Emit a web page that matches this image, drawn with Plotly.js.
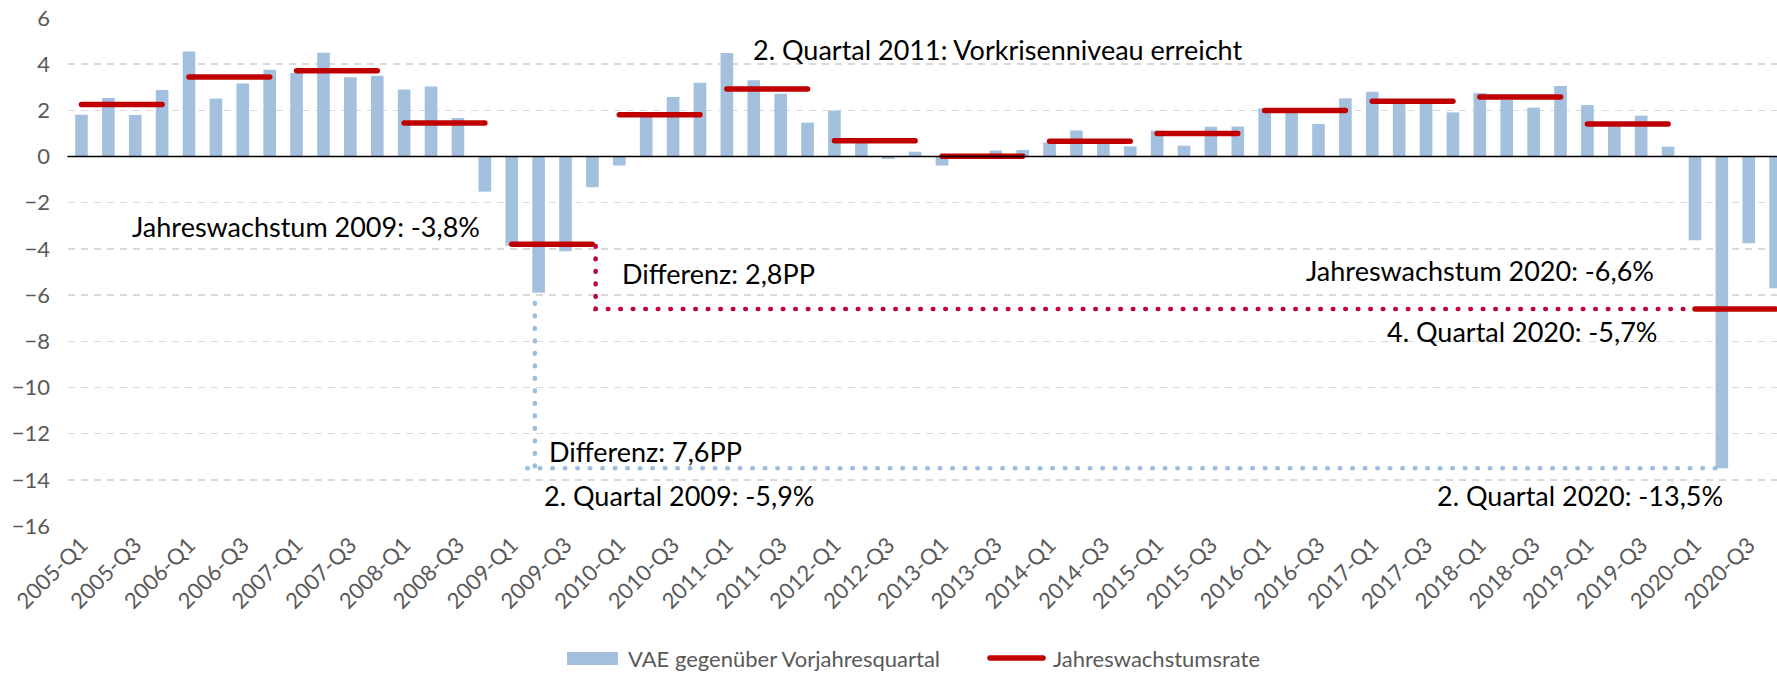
<!DOCTYPE html>
<html>
<head>
<meta charset="utf-8">
<script src="https://cdn.plot.ly/plotly-3.0.1.min.js"></script>
<style>
html,body{margin:0;padding:0;background:#fff;overflow:hidden}
#chart{width:1777px;height:673px}
.js-line{stroke-linecap:round}
.shapelayer path{stroke-linecap:round}
</style>
</head>
<body>
<div id="chart"></div>
<script>
// ---- data ----
const quarters = [
 '2005-Q1','2005-Q2','2005-Q3','2005-Q4','2006-Q1','2006-Q2','2006-Q3','2006-Q4',
 '2007-Q1','2007-Q2','2007-Q3','2007-Q4','2008-Q1','2008-Q2','2008-Q3','2008-Q4',
 '2009-Q1','2009-Q2','2009-Q3','2009-Q4','2010-Q1','2010-Q2','2010-Q3','2010-Q4',
 '2011-Q1','2011-Q2','2011-Q3','2011-Q4','2012-Q1','2012-Q2','2012-Q3','2012-Q4',
 '2013-Q1','2013-Q2','2013-Q3','2013-Q4','2014-Q1','2014-Q2','2014-Q3','2014-Q4',
 '2015-Q1','2015-Q2','2015-Q3','2015-Q4','2016-Q1','2016-Q2','2016-Q3','2016-Q4',
 '2017-Q1','2017-Q2','2017-Q3','2017-Q4','2018-Q1','2018-Q2','2018-Q3','2018-Q4',
 '2019-Q1','2019-Q2','2019-Q3','2019-Q4','2020-Q1','2020-Q2','2020-Q3','2020-Q4'
];
const vaeYoY = [
  1.81, 2.54, 1.80, 2.88,   4.55, 2.51, 3.16, 3.76,
  3.62, 4.50, 3.43, 3.50,   2.90, 3.03, 1.67, -1.52,
 -3.86, -5.90, -4.10, -1.33, -0.39, 1.80, 2.58, 3.20,
  4.48, 3.30, 2.72, 1.47,   1.99, 0.62, -0.10, 0.21,
 -0.39, -0.05, 0.26, 0.28,  0.61, 1.13, 0.55, 0.44,
  1.12, 0.47, 1.29, 1.30,   2.09, 1.95, 1.41, 2.52,
  2.81, 2.35, 2.38, 1.91,   2.75, 2.45, 2.12, 3.06,
  2.23, 1.35, 1.77, 0.43,  -3.63, -13.50, -3.76, -5.70
];
const years = [2005,2006,2007,2008,2009,2010,2011,2012,2013,2014,2015,2016,2017,2018,2019,2020];
const annualRate = [2.25, 3.44, 3.72, 1.45, -3.80, 1.81, 2.93, 0.68, 0.01, 0.66, 1.00, 1.99, 2.39, 2.58, 1.41, -6.60];

const seriesNames = ['VAE gegenüber Vorjahresquartal', 'Jahreswachstumsrate'];
const noteTexts = {
  yr2009: 'Jahreswachstum 2009: -3,8%',
  q2_2011: '2. Quartal 2011: Vorkrisenniveau erreicht',
  diffAnnual: 'Differenz: 2,8PP',
  diffQuarter: 'Differenz: 7,6PP',
  q2_2009: '2. Quartal 2009: -5,9%',
  yr2020: 'Jahreswachstum 2020: -6,6%',
  q4_2020: '4. Quartal 2020: -5,7%',
  q2_2020: '2. Quartal 2020: -13,5%'
};

// ---- styles ----
const BAR = '#A4C0DF', RED = '#C00000', CRIMSON = '#C0003F', BLUEDOT = '#9DBDDF';
const GRAY = '#595959', FONT = 'Lato, "Open Sans", sans-serif';

const idx = quarters.map((q, i) => i);
const traces = [];

traces.push({
  type: 'bar', x: idx, y: vaeYoY, name: seriesNames[0],
  marker: {color: BAR, line: {width: 0}}, hoverinfo: 'skip'
});

years.forEach((yr, k) => {
  const xs = [], ys = [];
  quarters.forEach((q, i) => { if (q.startsWith(String(yr))) { xs.push(i); ys.push(annualRate[k]); } });
  traces.push({
    type: 'scatter', mode: 'lines', x: xs, y: ys, name: seriesNames[1],
    line: {color: RED, width: 5.5}, hoverinfo: 'skip'
  });
});

// connector: annual 2009 -> annual 2020
const i09q4 = quarters.indexOf('2009-Q4'), i20q1 = quarters.indexOf('2020-Q1');
const r09 = annualRate[years.indexOf(2009)], r20 = annualRate[years.indexOf(2020)];
traces.push({
  type: 'scatter', mode: 'lines',
  x: [i09q4 + 0.12, i09q4 + 0.12, i20q1 - 0.35],
  y: [r09 - 0.08, r20, r20],
  line: {color: CRIMSON, width: 4.6, dash: '0.5px,12px'}, hoverinfo: 'skip'
});
// connector: Q2 2009 -> Q2 2020
const i09q2 = quarters.indexOf('2009-Q2'), i20q2 = quarters.indexOf('2020-Q2');
traces.push({
  type: 'scatter', mode: 'lines',
  x: [i09q2 - 0.14, i09q2 - 0.14, null, i09q2 - 0.42, i20q2 - 0.2],
  y: [vaeYoY[i09q2] - 0.45, vaeYoY[i20q2], null, vaeYoY[i20q2], vaeYoY[i20q2]],
  line: {color: BLUEDOT, width: 4.6, dash: '0.5px,12px'}, hoverinfo: 'skip'
});

const tickvals = idx.filter(i => /Q[13]$/.test(quarters[i]));
const ticktext = tickvals.map(i => quarters[i]);

// pixel helpers for legend placement (paper coords)
const L = 68, R = 0, T = 18, B = 147, W = 1777, H = 673;
const pw = W - L - R, ph = H - T - B;
const px = v => (v - L) / pw;
const py = v => (H - B - v) / ph;

const annFont = {family: FONT, size: 27, color: '#000'};
function note(text, x, y, xanchor) {
  return {text, x, y, xref: 'x', yref: 'y', xanchor, yanchor: 'middle', showarrow: false, font: annFont};
}

const layout = {
  width: W, height: H,
  margin: {l: L, r: R, t: T, b: B, pad: 0},
  paper_bgcolor: '#fff', plot_bgcolor: '#fff',
  font: {family: FONT, color: GRAY},
  showlegend: false,
  bargap: 0.53,
  xaxis: {
    type: 'linear', range: [-0.5, 63.05], tickvals, ticktext, tickangle: -45,
    tickfont: {family: FONT, size: 22, color: GRAY},
    showgrid: false, zeroline: false, showline: false, ticks: '', ticklabelstandoff: 1
  },
  yaxis: {
    range: [-16, 6], dtick: 2, tick0: 0,
    showgrid: true, gridcolor: '#D9D9D9', gridwidth: 1.5, griddash: '7px,6px',
    zeroline: false, showline: false, ticks: '',
    tickfont: {family: FONT, size: 22, color: GRAY}, ticklabelstandoff: 17
  },
  shapes: [
    {type: 'line', xref: 'paper', yref: 'y', x0: 0, x1: 1, y0: 0, y1: 0, line: {color: '#000', width: 1.6}, layer: 'above'},
    {type: 'rect', xref: 'paper', yref: 'paper', x0: px(567), x1: px(618), y0: py(665), y1: py(652), fillcolor: BAR, line: {width: 0}},
    {type: 'line', xref: 'paper', yref: 'paper', x0: px(990), x1: px(1043), y0: py(658), y1: py(658), line: {color: RED, width: 5.5}}
  ],
  annotations: [
    note(noteTexts.yr2009, 1.80, -3.01, 'left'),
    note(noteTexts.q2_2011, 24.9, 4.63, 'left'),
    note(noteTexts.diffAnnual, 20.04, -5.08, 'left'),
    note(noteTexts.diffQuarter, 17.32, -12.76, 'left'),
    note(noteTexts.q2_2009, 17.11, -14.68, 'left'),
    note(noteTexts.yr2020, 58.55, -4.94, 'right'),
    note(noteTexts.q4_2020, 58.68, -7.59, 'right'),
    note(noteTexts.q2_2020, 61.1, -14.68, 'right'),
    {text: seriesNames[0], xref: 'paper', yref: 'paper', x: px(626), y: py(658), xanchor: 'left', yanchor: 'middle', showarrow: false, font: {family: FONT, size: 22, color: GRAY}},
    {text: seriesNames[1], xref: 'paper', yref: 'paper', x: px(1051), y: py(658), xanchor: 'left', yanchor: 'middle', showarrow: false, font: {family: FONT, size: 22, color: GRAY}}
  ]
};

Plotly.newPlot('chart', traces, layout, {staticPlot: true, displayModeBar: false});
</script>
</body>
</html>
